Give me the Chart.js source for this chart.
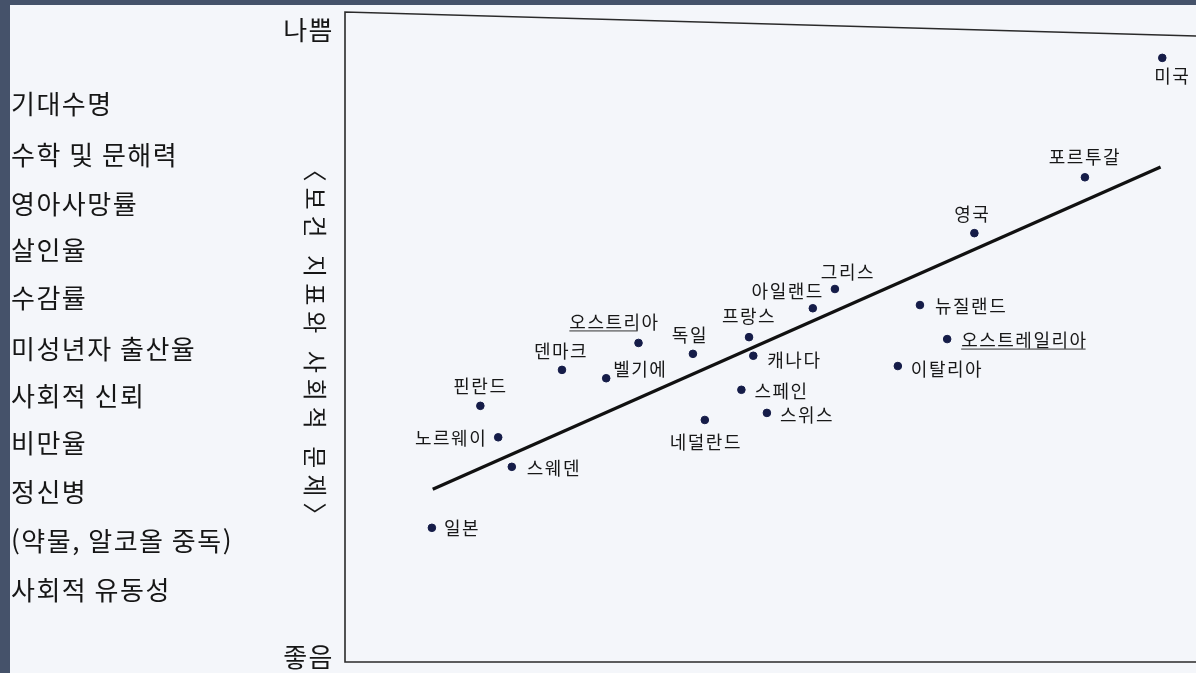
<!DOCTYPE html>
<html lang="ko">
<head>
  <meta charset="UTF-8">
  <title>보건 지표와 사회적 문제</title>
  <style>
    html, body {
      margin: 0;
      padding: 0;
      background-color: #45526a;
      overflow: hidden;
    }
    #wrap {
      position: absolute;
      left: 0;
      top: 0;
      width: 1196px;
      height: 673px;
    }
  </style>
</head>
<body>
  <div id="wrap">
    <canvas id="scatter" width="1196" height="673"></canvas>
  </div>

  <script src="https://cdn.jsdelivr.net/npm/chart.js"></script>
  <script>
    // Countries and their position (x: inequality, y: health & social problems index)
    const countries = ["미국", "포르투갈", "영국", "그리스", "아일랜드", "뉴질랜드", "오스트레일리아",
      "이탈리아", "프랑스", "캐나다", "스페인", "스위스", "네덜란드", "독일", "오스트리아",
      "벨기에", "덴마크", "핀란드", "노르웨이", "스웨덴", "일본"];
    const xValues = [96.0, 86.9, 73.9, 57.5, 54.9, 67.5, 70.7, 64.9, 47.4, 47.9, 46.5,
      49.5, 42.2, 40.8, 34.4, 30.6, 25.4, 15.8, 17.9, 19.5, 10.1];
    const yValues = [94.1, 75.5, 66.8, 58.1, 55.1, 55.6, 50.3, 46.1, 50.6, 47.7, 42.4,
      38.8, 37.7, 48.0, 49.7, 44.2, 45.5, 39.9, 35.0, 30.4, 20.9];

    // Trend line end points
    const trendX = [10.2, 95.8];
    const trendY = [26.9, 77.1];

    // Text on the left of the chart
    const indicators = ["기대수명", "수학 및 문해력", "영아사망률", "살인율", "수감률",
      "미성년자 출산율", "사회적 신뢰", "비만율", "정신병", "(약물, 알코올 중독)", "사회적 유동성"];
    const axisTitle = "〈보건 지표와 사회적 문제〉";
    const topLabel = "나쁨";
    const bottomLabel = "좋음";

    // where each country label sits relative to its dot: [dx, dy, align]
    const labelPlace = {
      "미국": [10, 18, "center"],
      "포르투갈": [0, -20, "center"],
      "영국": [-2, -19, "center"],
      "그리스": [13, -17, "center"],
      "아일랜드": [11, -17, "right"],
      "뉴질랜드": [15, 1, "left"],
      "오스트레일리아": [14, 1, "left"],
      "이탈리아": [13, 3, "left"],
      "프랑스": [0, -21, "center"],
      "캐나다": [14, 4, "left"],
      "스페인": [13, 1, "left"],
      "스위스": [13, 2, "left"],
      "네덜란드": [1, 22, "center"],
      "독일": [-3, -19, "center"],
      "오스트리아": [-24, -21, "center"],
      "벨기에": [7, -9, "left"],
      "덴마크": [-1, -19, "center"],
      "핀란드": [0, -20, "center"],
      "노르웨이": [-11, 1, "right"],
      "스웨덴": [15, 1, "left"],
      "일본": [12, 0, "left"]
    };
    // labels with a pen underline in the photographed page
    const underlined = ["오스트리아", "오스트레일리아"];

    const KFONT = '"Noto Sans CJK KR", "Noto Sans", sans-serif';

    const pagePlugin = {
      id: 'page',
      beforeDraw(chart) {
        const ctx = chart.ctx;
        ctx.save();
        ctx.fillStyle = '#45526a';
        ctx.fillRect(0, 0, chart.width, chart.height);
        ctx.fillStyle = '#f4f6fa';
        ctx.fillRect(10, 5, chart.width - 10, chart.height - 5);

        // frame (top edge a bit slanted like the photographed page)
        const a = chart.chartArea;
        ctx.strokeStyle = '#2a2a2a';
        ctx.lineWidth = 1.6;
        ctx.beginPath();
        ctx.moveTo(chart.width + 2, 36);
        ctx.lineTo(345, 12);
        ctx.lineTo(345, a.bottom);
        ctx.lineTo(chart.width + 2, a.bottom);
        ctx.stroke();

        // left text
        ctx.fillStyle = '#161616';
        ctx.textBaseline = 'middle';
        ctx.font = '26px ' + KFONT;
        ctx.letterSpacing = '1.5px';
        ctx.textAlign = 'left';
        const rowY = [104, 155, 204, 250, 298, 349, 396, 443, 492, 541, 590];
        indicators.forEach((t, i) => ctx.fillText(t, 11, rowY[i]));

        ctx.textAlign = 'right';
        ctx.fillText(topLabel, 334, 30);
        ctx.fillText(bottomLabel, 334, 657);

        ctx.translate(315, 345);
        ctx.rotate(Math.PI / 2);
        ctx.textAlign = 'center';
        ctx.font = '24px ' + KFONT;
        ctx.letterSpacing = '6px';
        ctx.fillText(axisTitle, 0, 0);
        ctx.restore();
      }
    };

    const labelPlugin = {
      id: 'countryLabels',
      afterDatasetsDraw(chart) {
        const ctx = chart.ctx;
        const meta = chart.getDatasetMeta(1);
        ctx.save();
        ctx.font = '18px ' + KFONT;
        ctx.letterSpacing = '1.5px';
        ctx.fillStyle = '#181818';
        ctx.textBaseline = 'middle';
        countries.forEach((name, i) => {
          const pt = meta.data[i];
          const p = labelPlace[name];
          ctx.textAlign = p[2];
          const tx = pt.x + p[0];
          const ty = pt.y + p[1];
          ctx.fillText(name, tx, ty);
          if (underlined.includes(name)) {
            const w = ctx.measureText(name).width;
            const x0 = p[2] === 'center' ? tx - w / 2 : tx;
            const x1 = p[2] === 'center' ? tx + w / 2 - 22 : tx + w - 2;
            ctx.strokeStyle = '#333';
            ctx.lineWidth = 1;
            ctx.beginPath();
            ctx.moveTo(x0, ty + 9);
            ctx.lineTo(x1, ty + 9);
            ctx.stroke();
          }
        });
        ctx.restore();
      }
    };

    new Chart(document.getElementById('scatter'), {
      type: 'scatter',
      data: {
        datasets: [{
          type: 'line',
          label: '추세선',
          data: trendX.map((x, i) => ({ x: x, y: trendY[i] })),
          borderColor: '#111111',
          borderWidth: 3.2,
          pointRadius: 0,
          fill: false
        }, {
          label: '국가',
          data: xValues.map((x, i) => ({ x: x, y: yValues[i] })),
          backgroundColor: '#151c48',
          borderColor: '#151c48',
          pointRadius: 3.8,
          pointHoverRadius: 3.8
        }]
      },
      options: {
        responsive: false,
        animation: false,
        layout: {
          padding: { left: 346, top: 20, right: 0, bottom: 11 }
        },
        scales: {
          x: { type: 'linear', min: 0, max: 99.4, display: false },
          y: { type: 'linear', min: 0, max: 100, display: false }
        },
        plugins: {
          legend: { display: false },
          tooltip: { enabled: false }
        }
      },
      plugins: [pagePlugin, labelPlugin]
    });
  </script>
</body>
</html>
